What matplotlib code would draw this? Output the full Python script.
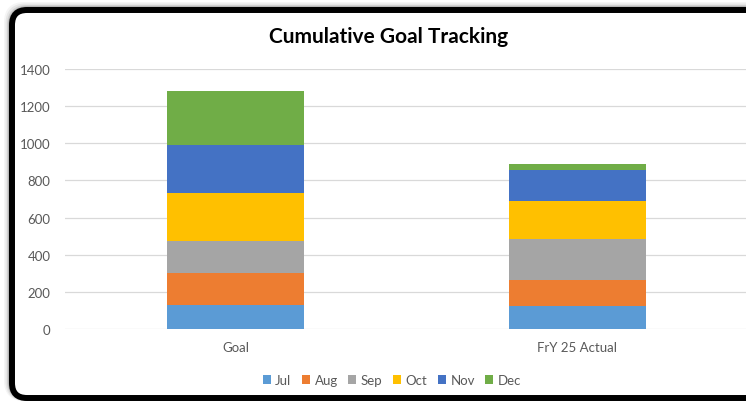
import numpy as np
import matplotlib.pyplot as plt
from matplotlib.patches import FancyBboxPatch

# data
categories = ['Goal', 'FrY 25 Actual']
months = ['Jul', 'Aug', 'Sep', 'Oct', 'Nov', 'Dec']
jul = [130, 126]
aug = [170, 140]
sep = [175, 219]
oct_ = [260, 206]
nov = [255, 167]
dec = [290, 30]
series = [jul, aug, sep, oct_, nov, dec]
colors = ['#5B9BD5', '#ED7D31', '#A5A5A5', '#FFC000', '#4472C4', '#70AD47']

plt.rcParams['font.family'] = ['Lato', 'DejaVu Sans']

W, H = 746, 402
fig = plt.figure(figsize=(W / 100, H / 100), dpi=100)

# frame (inches) with a soft shadow
for off, a in [(0.05, 0.04), (0.035, 0.06), (0.02, 0.09), (0.01, 0.12)]:
    sh = FancyBboxPatch((0.12 - off, 0.03), 8, 3.88 + off,
                        boxstyle='round,pad=0,rounding_size=0.17', transform=fig.dpi_scale_trans,
                        fc='none', ec='black', lw=4.3, alpha=a, zorder=-3)
    fig.patches.append(sh)
frame = FancyBboxPatch((0.12, 0.03), 8, 3.88,
                       boxstyle='round,pad=0,rounding_size=0.15', transform=fig.dpi_scale_trans,
                       fc='white', ec='black', lw=4.3, zorder=-2)
fig.patches.append(frame)

ax = fig.add_axes([64.5 / W, 1 - 330 / H, 684 / W, 260 / H])
ax.set_facecolor('none')
x = np.arange(len(categories))
bottom = np.zeros(len(categories))
for name, vals, c in zip(months, series, colors):
    ax.bar(x, vals, width=0.4, bottom=bottom, color=c, label=name, zorder=3)
    bottom += np.array(vals)

ax.set_xlim(-0.5, 1.5)
ax.set_ylim(0, 1400)
ax.set_yticks(np.arange(0, 1401, 200))
ax.yaxis.grid(True, color='#D9D9D9', lw=0.9, zorder=0)
for s in ax.spines.values():
    s.set_visible(False)
ax.tick_params(axis='both', length=0, colors='#595959', labelsize=9.5)
ax.tick_params(axis='y', pad=10)
ax.tick_params(axis='x', pad=9)
ax.set_xticks(x)
ax.set_xticklabels(categories)

fig.text(389 / W, 1 - 37 / H, 'Cumulative Goal Tracking', ha='center', va='center',
         fontsize=15, fontweight='bold', color='black')

leg = fig.legend(loc='center', bbox_to_anchor=(392 / W, 1 - 381 / H), ncol=6, frameon=False,
                 fontsize=9.5, handlelength=0.6, handleheight=0.6, handletextpad=0.35,
                 columnspacing=0.8, labelcolor='#595959')

fig.savefig('out.png', dpi=100)
